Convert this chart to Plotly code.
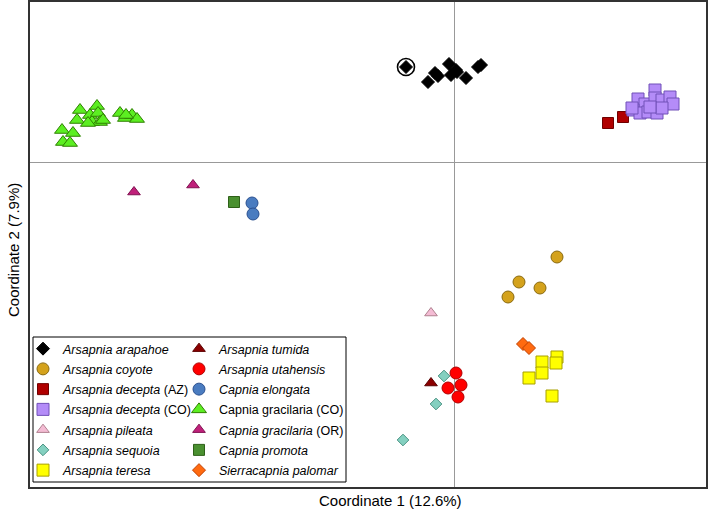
import plotly.graph_objects as go

# ---- data (PCoA coordinates) ----
arapahoe_x = [-0.048, -0.026, -0.019, -0.016, -0.005, -0.003, 0.002, 0.003, 0.012, 0.024, 0.027]
arapahoe_y = [0.095, 0.080, 0.089, 0.086, 0.098, 0.087, 0.092, 0.090, 0.084, 0.095, 0.097]
circled_x = [-0.048]
circled_y = [0.095]

coyote_x = [0.103, 0.065, 0.086, 0.054]
coyote_y = [-0.095, -0.120, -0.126, -0.135]

decepta_az_x = [0.154, 0.169]
decepta_az_y = [0.039, 0.045]

decepta_co_x = [0.201, 0.184, 0.191, 0.201, 0.208, 0.216, 0.219, 0.179, 0.186, 0.194, 0.203, 0.208, 0.178, 0.196]
decepta_co_y = [0.072, 0.063, 0.058, 0.064, 0.062, 0.065, 0.058, 0.052, 0.049, 0.050, 0.049, 0.054, 0.054, 0.055]

pileata_x = [-0.023]
pileata_y = [-0.151]

sequoia_x = [-0.010, -0.018, -0.051]
sequoia_y = [-0.214, -0.242, -0.278]

teresa_x = [0.088, 0.103, 0.102, 0.088, 0.075, 0.098]
teresa_y = [-0.200, -0.195, -0.201, -0.211, -0.216, -0.234]

tumida_x = [-0.023]
tumida_y = [-0.221]

utahensis_x = [0.002, -0.006, 0.007, 0.004]
utahensis_y = [-0.211, -0.226, -0.223, -0.235]

elongata_x = [-0.202, -0.201]
elongata_y = [-0.041, -0.052]

gracilaria_co_x = [-0.374, -0.377, -0.392, -0.381, -0.391, -0.384, -0.364, -0.362, -0.357,
                   -0.356, -0.354, -0.351, -0.366, -0.334, -0.329, -0.322, -0.317, -0.328]
gracilaria_co_y = [0.052, 0.042, 0.032, 0.029, 0.020, 0.019, 0.047, 0.040, 0.056,
                   0.049, 0.040, 0.042, 0.039, 0.049, 0.044, 0.047, 0.043, 0.047]

gracilaria_or_x = [-0.320, -0.261]
gracilaria_or_y = [-0.030, -0.023]

promota_x = [-0.220]
promota_y = [-0.040]

palomar_x = [0.069, 0.075]
palomar_y = [-0.182, -0.186]

x_title = "Coordinate 1 (12.6%)"
y_title = "Coordinate 2 (7.9%)"

# (name, x, y, symbol, fill, outline, size, legend column)
series = [
    ("<i>Arsapnia arapahoe</i>", arapahoe_x, arapahoe_y, "diamond", "#000000", "#000000", 10, "legend"),
    ("<i>Arsapnia coyote</i>", coyote_x, coyote_y, "circle", "#D4A21C", "#8A6A10", 12, "legend"),
    ("<i>Arsapnia decepta</i> (AZ)", decepta_az_x, decepta_az_y, "square", "#B00000", "#700000", 11, "legend"),
    ("<i>Arsapnia decepta</i> (CO)", decepta_co_x, decepta_co_y, "square", "#B48CF8", "#7050B8", 12, "legend"),
    ("<i>Arsapnia pileata</i>", pileata_x, pileata_y, "triangle-up", "#F4BCD4", "#B0808F", 11, "legend"),
    ("<i>Arsapnia sequoia</i>", sequoia_x, sequoia_y, "diamond", "#84D0C0", "#4C9484", 9, "legend"),
    ("<i>Arsapnia teresa</i>", teresa_x, teresa_y, "square", "#FFFF00", "#A8A000", 12, "legend"),
    ("<i>Arsapnia tumida</i>", tumida_x, tumida_y, "triangle-up", "#8B0000", "#5A0000", 11, "legend2"),
    ("<i>Arsapnia utahensis</i>", utahensis_x, utahensis_y, "circle", "#FF0000", "#B00000", 12, "legend2"),
    ("<i>Capnia elongata</i>", elongata_x, elongata_y, "circle", "#4A7CC0", "#2A5090", 12, "legend2"),
    ("Capnia gracilaria (CO)", gracilaria_co_x, gracilaria_co_y, "triangle-up", "#5CEE22", "#2E8000", 13, "legend2"),
    ("<i>Capnia gracilaria</i> (OR)", gracilaria_or_x, gracilaria_or_y, "triangle-up", "#C0207A", "#801050", 11, "legend2"),
    ("<i>Capnia promota</i>", promota_x, promota_y, "square", "#4A9030", "#2E6018", 11, "legend2"),
    ("<i>Sierracapnia palomar</i>", palomar_x, palomar_y, "diamond", "#FF6A10", "#C04000", 10, "legend2"),
]

fig = go.Figure()
for i, (name, xs, ys, sym, fill, edge, size, leg) in enumerate(series):
    fig.add_trace(go.Scatter(
        x=xs, y=ys, mode="markers", name=name, legend=leg, legendgroup=f"g{i}",
        marker=dict(symbol=sym, color=fill, size=size, line=dict(color=edge, width=1)),
    ))

fig.add_trace(go.Scatter(
    x=circled_x, y=circled_y, mode="markers", showlegend=False,
    marker=dict(symbol="circle-open", color="#000000", size=17, line=dict(width=1.6)),
))

W, H = 709, 518
L, R, T, B = 30, 3, 2, 31
pw, ph = W - L - R, H - T - B

def px_x(p):
    return (p - L) / pw

def px_y(p):
    return (H - B - p) / ph

fig.update_layout(
    width=W, height=H,
    margin=dict(l=L, r=R, t=T, b=B, autoexpand=False),
    plot_bgcolor="white", paper_bgcolor="white",
    font=dict(family="Liberation Sans, Arial, sans-serif", color="#000000"),
    legend=dict(x=px_x(23), y=px_y(334), xanchor="left", yanchor="top",
                bgcolor="rgba(0,0,0,0)", font=dict(size=12.5), tracegroupgap=1,
                itemwidth=30),
    legend2=dict(x=px_x(179), y=px_y(334), xanchor="left", yanchor="top",
                 bgcolor="rgba(0,0,0,0)", font=dict(size=12.5), tracegroupgap=1,
                 itemwidth=30),
    shapes=[dict(type="rect", xref="paper", yref="paper",
                 x0=px_x(33), x1=px_x(346), y0=px_y(482), y1=px_y(337),
                 line=dict(color="#000000", width=1), fillcolor="white", layer="below")],
    annotations=[
        dict(text=x_title, xref="paper", yref="paper", x=px_x(390), y=px_y(501),
             xanchor="center", yanchor="middle", showarrow=False, font=dict(size=15)),
        dict(text=y_title, xref="paper", yref="paper", x=px_x(14), y=px_y(250),
             xanchor="center", yanchor="middle", showarrow=False, textangle=-90,
             font=dict(size=15)),
    ],
)
fig.update_xaxes(range=[-0.424, 0.252], showgrid=False, showticklabels=False, ticks="",
                 zeroline=True, zerolinecolor="#999999", zerolinewidth=1,
                 showline=True, mirror=True, linecolor="#333333", linewidth=2)
fig.update_yaxes(range=[-0.325, 0.160], showgrid=False, showticklabels=False, ticks="",
                 zeroline=True, zerolinecolor="#999999", zerolinewidth=1,
                 showline=True, mirror=True, linecolor="#333333", linewidth=2)

fig.write_html("out.html", config={"displayModeBar": False},
               post_script="document.body.style.margin='0';")
